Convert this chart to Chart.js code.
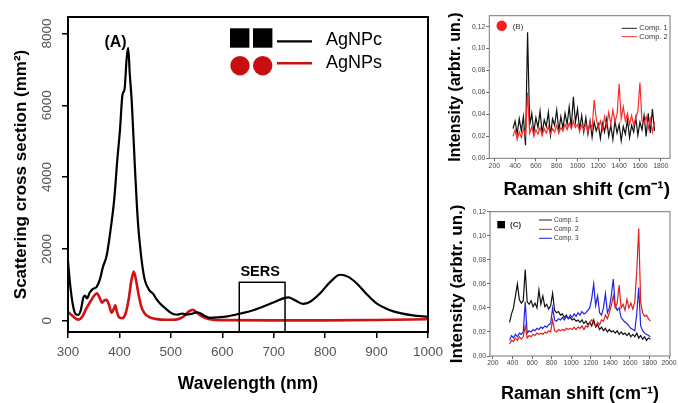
<!DOCTYPE html>
<html><head><meta charset="utf-8">
<script src="https://cdn.jsdelivr.net/npm/chart.js@4.4.1/dist/chart.umd.min.js"></script>
<style>
html,body{margin:0;padding:0;background:#fff;width:678px;height:403px;overflow:hidden}
canvas{position:absolute}
#ca{left:0;top:0}#cb{left:440px;top:0;background:#fff}#cc{left:440px;top:200px}
</style></head><body>
<canvas id="ca" width="445" height="403"></canvas>
<canvas id="cb" width="238" height="210"></canvas>
<canvas id="cc" width="238" height="203"></canvas>
<script>
// ---------- Panel A: scattering cross section ----------
const wavelengthNPc = [300,305,310,315,320,325,330,333,337,342,348,356,362,368,375,382,390,396,401,406,410,414,417,420,424,430,434,437,440,443,447,450,458,466,472,479,488,498,506,514,522,530,540,550,557,565,576,590,610,635,660,686,705,720,729,740,757,770,790,810,829,845,862,880,900,925,946,970,1000];
const scatteringNPc = [1650,900,400,180,160,300,650,700,620,780,880,950,1150,1500,1800,2450,3400,4500,5300,6300,6450,7300,7600,6900,6100,4300,3200,2550,2100,1700,1300,1100,850,740,600,480,360,240,180,170,200,170,190,230,210,140,80,90,120,200,290,430,540,630,650,580,470,520,760,1080,1280,1220,1030,750,480,300,210,150,110];
const wavelengthNPs = [300,310,320,328,335,343,350,356,362,366,371,375,380,385,389,392,395,399,405,412,418,423,428,432,437,442,448,458,470,490,510,525,535,543,550,560,575,600,700,800,900,1000];
const scatteringNPs = [250,120,30,120,320,520,680,760,620,500,570,580,430,220,330,430,250,100,70,200,600,1100,1370,1150,750,420,220,100,50,25,30,120,260,300,230,120,40,15,10,10,20,40];
const xTicksA = [300,400,500,600,700,800,900,1000];
const yTicksA = [0,2000,4000,6000,8000];
const sersWindow = [633, 722];
const sersTop = 1070;
const seriesNamesA = ['AgNPc', 'AgNPs'];

// ---------- Panel B ----------
const ramanB = [380,400,420,440,460,480,500,520,540,560,580,600,620,640,660,680,700,720,740,760,780,800,820,840,860,880,900,920,940,960,980,1000,1020,1040,1060,1080,1100,1120,1140,1160,1180,1200,1220,1240,1260,1280,1300,1320,1340,1360,1380,1400,1420,1440,1460,1480,1500,1520,1540,1560,1580,1600,1620,1640,1660,1680,1700,1720,1740];
const bComp1 = [.027,.034,.022,.036,.025,.038,.012,.115,.030,.041,
  .024,.037,.028,.043,.023,.035,.029,.042,.021,.036,
  .030,.044,.025,.038,.027,.041,.031,.047,.028,.056,
  .033,.045,.026,.039,.024,.037,.022,.034,.019,.033,
  .025,.031,.018,.032,.024,.036,.020,.030,.017,.034,
  .023,.031,.016,.029,.022,.035,.019,.030,.024,.037,
  .021,.033,.026,.039,.020,.041,.023,.045,.025];
const bComp2 = [.020,.026,.017,.024,.019,.027,.021,.060,.023,.029,
  .020,.026,.022,.028,.021,.027,.023,.029,.022,.027,
  .024,.030,.023,.028,.025,.031,.026,.032,.027,.034,
  .028,.031,.025,.030,.026,.031,.024,.033,.027,.053,
  .036,.028,.034,.026,.038,.029,.042,.031,.044,.033,
  .040,.068,.036,.047,.034,.041,.031,.039,.030,.037,
  .043,.069,.034,.032,.038,.027,.036,.024,.033];
const xTicksB = [200,400,600,800,1000,1200,1400,1600,1800];
const yTicksB = [0,0.02,0.04,0.06,0.08,0.10,0.12];

// ---------- Panel C ----------
const ramanC = [370,390,410,430,450,470,490,510,530,550,570,590,610,630,650,670,690,710,730,750,770,790,810,830,850,870,890,910,930,950,970,990,1010,1030,1050,1070,1090,1110,1130,1150,1170,1190,1210,1230,1250,1270,1290,1310,1330,1350,1370,1390,1410,1430,1450,1470,1490,1510,1530,1550,1570,1590,1610,1630,1650,1670,1690,1710,1730,1750,1770,1790,1810];
const cComp1 = [.028,.035,.040,.050,.060,.047,.044,.046,.072,.045,
  .043,.046,.041,.044,.040,.055,.043,.050,.041,.043,
  .039,.042,.052,.038,.036,.037,.034,.035,.032,.034,
  .031,.032,.030,.031,.029,.030,.028,.030,.027,.029,
  .026,.028,.025,.030,.024,.026,.022,.024,.021,.023,
  .020,.022,.020,.021,.019,.021,.018,.020,.018,.019,
  .017,.019,.016,.018,.016,.019,.015,.017,.014,.016,
  .013,.015,.014];
const cComp2 = [.010,.013,.012,.015,.013,.016,.014,.016,.025,.015,
  .017,.016,.018,.017,.019,.018,.019,.018,.020,.019,
  .021,.020,.030,.021,.020,.022,.021,.022,.021,.023,
  .022,.023,.022,.024,.022,.024,.023,.025,.022,.025,
  .024,.028,.030,.027,.025,.028,.026,.030,.029,.034,
  .031,.036,.042,.050,.040,.044,.059,.040,.043,.038,
  .047,.040,.044,.039,.045,.070,.106,.045,.036,.033,
  .034,.031,.029];
const cComp3 = [.013,.017,.015,.018,.016,.019,.018,.020,.045,.019,
  .021,.020,.022,.021,.023,.022,.024,.023,.025,.024,
  .026,.027,.040,.030,.029,.031,.030,.032,.030,.033,
  .031,.034,.032,.035,.033,.036,.034,.037,.035,.036,
  .038,.040,.048,.060,.042,.050,.036,.034,.040,.052,
  .036,.040,.050,.064,.042,.038,.040,.032,.030,.028,
  .027,.025,.023,.022,.021,.035,.057,.025,.021,.019,
  .018,.017,.016];
const xTicksC = [200,400,600,800,1000,1200,1400,1600,1800,2000];
const yTicksC = [0,0.02,0.04,0.06,0.08,0.10,0.12];
const seriesNamesB = ['Comp. 1', 'Comp. 2'];
const seriesNamesC = ['Comp. 1', 'Comp. 2', 'Comp. 3'];

const FONT = "'Liberation Sans', Arial, sans-serif";
const pts = (xs, ys) => xs.map((x, i) => ({x: x, y: ys[i]}));
const comma = v => Number(v).toFixed(2).replace('.', ',');
const setTicks = arr => (s => { s.ticks = arr.map(v => ({value: v})); });
const fitX = h => (s => { s.height = h; s.paddingLeft = 0; s.paddingRight = 0; });
const fitY = w => (s => { s.width = w; s.paddingTop = 0; s.paddingBottom = 0; });

const framePlugin = {
  id: 'frame',
  afterDatasetsDraw(chart, args, opts) {
    const {ctx, chartArea: a} = chart;
    ctx.save();
    ctx.strokeStyle = opts.color || '#000';
    ctx.lineWidth = opts.width || 1;
    ctx.strokeRect(a.left, a.top, a.width, a.height);
    ctx.restore();
  }
};

// ---------- Chart A ----------
const annotA = {
  id: 'annotA',
  afterDraw(chart) {
    const {ctx, chartArea: a, scales} = chart;
    ctx.save();
    ctx.fillStyle = '#000';
    ctx.font = 'bold 16px ' + FONT;
    ctx.textAlign = 'center'; ctx.textBaseline = 'middle';
    ctx.fillText('(A)', a.left + 47.5, a.top + 25.5);
    const lx = a.left + 162;
    ctx.fillRect(lx, a.top + 11.3, 19.4, 19.4);
    ctx.fillRect(lx + 23, a.top + 11.3, 19.4, 19.4);
    ctx.strokeStyle = '#000'; ctx.lineWidth = 2.2;
    ctx.beginPath(); ctx.moveTo(lx + 47, a.top + 24.3); ctx.lineTo(lx + 82, a.top + 24.3); ctx.stroke();
    ctx.fillStyle = '#c80f0f';
    ctx.beginPath(); ctx.arc(lx + 10, a.top + 48.7, 9.7, 0, Math.PI * 2); ctx.fill();
    ctx.beginPath(); ctx.arc(lx + 32.7, a.top + 48.7, 9.7, 0, Math.PI * 2); ctx.fill();
    ctx.strokeStyle = '#c80f0f'; ctx.lineWidth = 2.5;
    ctx.beginPath(); ctx.moveTo(lx + 47, a.top + 46.3); ctx.lineTo(lx + 82, a.top + 46.3); ctx.stroke();
    ctx.fillStyle = '#000';
    ctx.font = '18px ' + FONT;
    ctx.textAlign = 'left';
    ctx.fillText(seriesNamesA[0], lx + 96, a.top + 23);
    ctx.fillText(seriesNamesA[1], lx + 96, a.top + 46);
    const x1 = scales.x.getPixelForValue(sersWindow[0]);
    const x2 = scales.x.getPixelForValue(sersWindow[1]);
    const yt = scales.y.getPixelForValue(sersTop);
    ctx.strokeStyle = '#000'; ctx.lineWidth = 1.5;
    ctx.strokeRect(x1, yt, x2 - x1, a.bottom - yt);
    ctx.font = 'bold 14.5px ' + FONT;
    ctx.textAlign = 'center';
    ctx.fillText('SERS', (x1 + x2) / 2 - 2, yt - 10.5);
    ctx.restore();
  }
};

new Chart(document.getElementById('ca'), {
  type: 'line',
  data: {datasets: [
    {label: seriesNamesA[0], data: pts(wavelengthNPc, scatteringNPc), borderColor: '#000', borderWidth: 2.2, pointRadius: 0, cubicInterpolationMode: 'monotone', fill: false, order: 1},
    {label: seriesNamesA[1], data: pts(wavelengthNPs, scatteringNPs), borderColor: '#d01212', borderWidth: 2.6, pointRadius: 0, cubicInterpolationMode: 'monotone', fill: false, order: 2}
  ]},
  options: {
    responsive: false, animation: false, devicePixelRatio: 1,
    layout: {padding: {left: 0, right: 17, top: 17, bottom: 0}},
    plugins: {legend: {display: false}, tooltip: {enabled: false}, frame: {color: '#000', width: 2}},
    scales: {
      x: {type: 'linear', min: 300, max: 1000,
        afterBuildTicks: setTicks(xTicksA),
        ticks: {autoSkip: false, maxRotation: 0, padding: 6, color: '#555', font: {family: FONT, size: 13.5}, callback: v => String(v)},
        grid: {drawOnChartArea: false, drawTicks: true, tickLength: 6, color: '#000', lineWidth: 1.5},
        border: {display: false},
        title: {display: true, text: 'Wavelength (nm)', color: '#000', font: {family: FONT, size: 17.5, weight: 'bold', lineHeight: 1}, padding: {top: 0, bottom: 10}},
        afterFit: fitX(71)
      },
      y: {type: 'linear', min: -315, max: 8460,
        afterBuildTicks: setTicks(yTicksA),
        ticks: {autoSkip: false, minRotation: 90, maxRotation: 90, crossAlign: 'center', padding: 0, color: '#555', font: {family: FONT, size: 13.5}, callback: v => String(v)},
        grid: {drawOnChartArea: false, drawTicks: true, tickLength: 6, color: '#000', lineWidth: 1.5},
        border: {display: false},
        title: {display: true, text: 'Scattering cross section (mm²)', color: '#000', font: {family: FONT, size: 17, weight: 'bold', lineHeight: 1}, padding: {top: 12.5, bottom: 0}},
        afterFit: fitY(68)
      }
    }
  },
  plugins: [framePlugin, annotA]
});

// ---------- Chart B ----------
const annotB = {
  id: 'annotB',
  afterDraw(chart) {
    const {ctx} = chart;
    ctx.save();
    ctx.fillStyle = '#ff1e1e';
    ctx.beginPath(); ctx.arc(61.7, 25.7, 5.2, 0, Math.PI * 2); ctx.fill();
    ctx.fillStyle = '#333';
    ctx.font = '8px ' + FONT; ctx.textBaseline = 'middle'; ctx.textAlign = 'left';
    ctx.fillText('(B)', 72.7, 27);
    ctx.lineWidth = 1;
    ctx.strokeStyle = '#222';
    ctx.beginPath(); ctx.moveTo(181.7, 28.3); ctx.lineTo(197, 28.3); ctx.stroke();
    ctx.strokeStyle = '#ff2a2a';
    ctx.beginPath(); ctx.moveTo(181.7, 36.7); ctx.lineTo(197, 36.7); ctx.stroke();
    ctx.font = '7.5px ' + FONT;
    ctx.fillText(seriesNamesB[0], 199.3, 28.3);
    ctx.fillText(seriesNamesB[1], 199.3, 36.7);
    ctx.restore();
  }
};

const smallTicks = {autoSkip: false, color: '#444', font: {family: FONT, size: 6.8}};

new Chart(document.getElementById('cb'), {
  type: 'line',
  data: {datasets: [
    {label: seriesNamesB[0], data: pts(ramanB, bComp1), borderColor: '#111', borderWidth: 1.2, pointRadius: 0, tension: 0, fill: false, order: 2},
    {label: seriesNamesB[1], data: pts(ramanB, bComp2), borderColor: '#ff2a2a', borderWidth: 1.2, pointRadius: 0, tension: 0, fill: false, order: 1}
  ]},
  options: {
    responsive: false, animation: false, devicePixelRatio: 1,
    layout: {padding: {left: 0, right: 8, top: 15.7, bottom: 0}},
    plugins: {legend: {display: false}, tooltip: {enabled: false}, frame: {color: '#777', width: 1}},
    scales: {
      x: {type: 'linear', min: 152, max: 1889,
        afterBuildTicks: setTicks(xTicksB),
        ticks: Object.assign({maxRotation: 0, padding: 0.5, callback: v => String(v)}, smallTicks),
        grid: {drawOnChartArea: false, drawTicks: true, tickLength: 3, color: '#666', lineWidth: 1},
        border: {display: false},
        title: {display: true, align: 'end', text: 'Raman shift (cm⁻¹)', color: '#000', font: {family: FONT, size: 19, weight: 'bold', lineHeight: 1}, padding: {top: 0, bottom: 10.5}},
        afterFit: fitX(51.7)
      },
      y: {type: 'linear', min: 0, max: 0.13,
        afterBuildTicks: setTicks(yTicksB),
        ticks: Object.assign({padding: 1, callback: v => comma(v)}, smallTicks),
        grid: {drawOnChartArea: false, drawTicks: true, tickLength: 3, color: '#666', lineWidth: 1},
        border: {display: false},
        title: {display: true, text: 'Intensity (arbtr. un.)', color: '#000', font: {family: FONT, size: 16, weight: 'bold', lineHeight: 1}, padding: {top: 8, bottom: 0}},
        afterFit: fitY(49.3)
      }
    }
  },
  plugins: [framePlugin, annotB]
});

// ---------- Chart C ----------
const annotC = {
  id: 'annotC',
  afterDraw(chart) {
    const {ctx} = chart;
    ctx.save();
    ctx.fillStyle = '#000';
    ctx.fillRect(57.3, 21, 7.7, 7.3);
    ctx.fillStyle = '#333';
    ctx.font = 'bold 8px ' + FONT; ctx.textBaseline = 'middle'; ctx.textAlign = 'left';
    ctx.fillText('(C)', 70, 25);
    ctx.lineWidth = 1;
    const cols = ['#222', '#e02020', '#2020e0'];
    const ys = [20, 29.3, 38.3];
    ctx.font = '6.5px ' + FONT;
    for (let i = 0; i < 3; i++) {
      ctx.strokeStyle = cols[i];
      ctx.beginPath(); ctx.moveTo(99, ys[i]); ctx.lineTo(112, ys[i]); ctx.stroke();
      ctx.fillText(seriesNamesC[i], 114, ys[i]);
    }
    ctx.restore();
  }
};

new Chart(document.getElementById('cc'), {
  type: 'line',
  data: {datasets: [
    {label: seriesNamesC[0], data: pts(ramanC, cComp1), borderColor: '#111', borderWidth: 1.2, pointRadius: 0, tension: 0, fill: false, order: 3},
    {label: seriesNamesC[1], data: pts(ramanC, cComp2), borderColor: '#e02020', borderWidth: 1.2, pointRadius: 0, tension: 0, fill: false, order: 1},
    {label: seriesNamesC[2], data: pts(ramanC, cComp3), borderColor: '#2323e6', borderWidth: 1.2, pointRadius: 0, tension: 0, fill: false, order: 2}
  ]},
  options: {
    responsive: false, animation: false, devicePixelRatio: 1,
    layout: {padding: {left: 0, right: 8, top: 11.7, bottom: 0}},
    plugins: {legend: {display: false}, tooltip: {enabled: false}, frame: {color: '#777', width: 1}},
    scales: {
      x: {type: 'linear', min: 170, max: 2010,
        afterBuildTicks: setTicks(xTicksC),
        ticks: Object.assign({maxRotation: 0, padding: 0.5, callback: v => String(v)}, smallTicks),
        grid: {drawOnChartArea: false, drawTicks: true, tickLength: 3, color: '#666', lineWidth: 1},
        border: {display: false},
        title: {display: true, text: 'Raman shift (cm⁻¹)', color: '#000', font: {family: FONT, size: 18, weight: 'bold', lineHeight: 1}, padding: {top: 0, bottom: 0}},
        afterFit: fitX(47)
      },
      y: {type: 'linear', min: 0, max: 0.12,
        afterBuildTicks: setTicks(yTicksC),
        ticks: Object.assign({padding: 1, callback: v => comma(v)}, smallTicks),
        grid: {drawOnChartArea: false, drawTicks: true, tickLength: 3, color: '#666', lineWidth: 1},
        border: {display: false},
        title: {display: true, text: 'Intensity (arbtr. un.)', color: '#000', font: {family: FONT, size: 17, weight: 'bold', lineHeight: 1}, padding: {top: 8.5, bottom: 0}},
        afterFit: fitY(50)
      }
    }
  },
  plugins: [framePlugin, annotC]
});
</script>
</body></html>
